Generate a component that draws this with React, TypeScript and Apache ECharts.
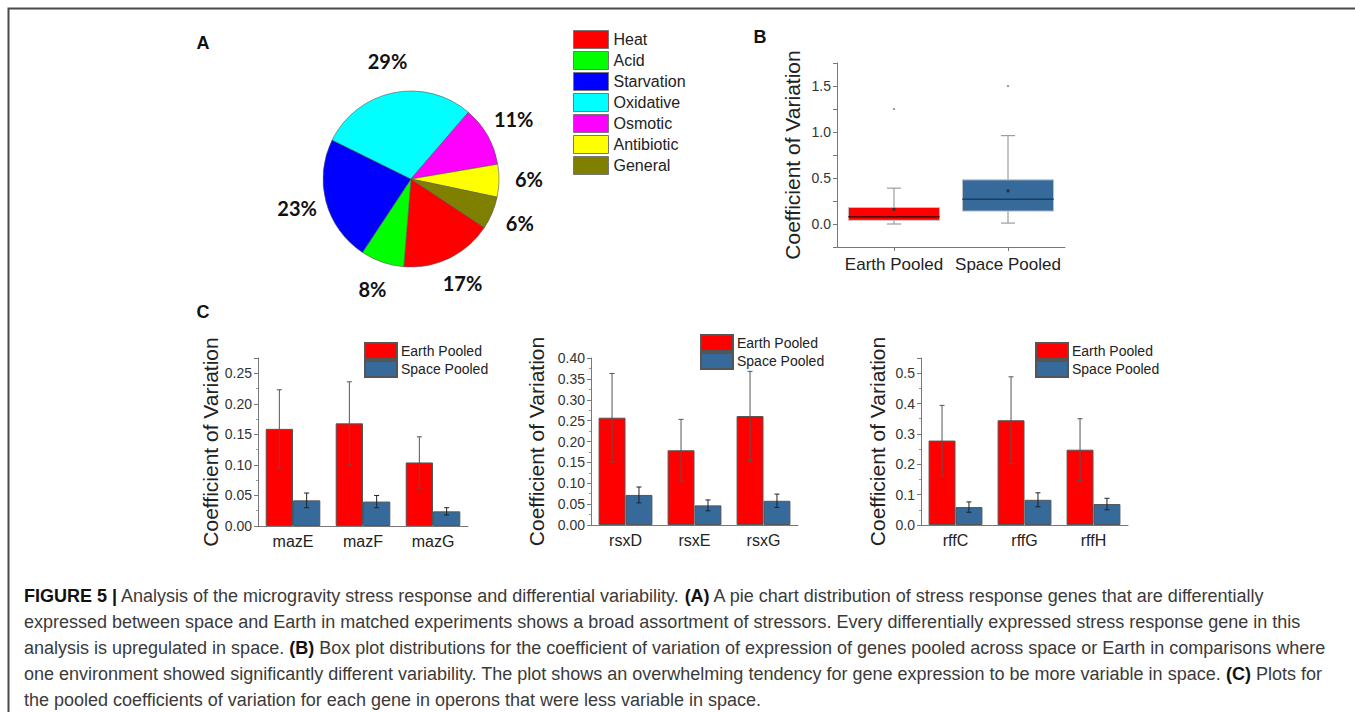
import React, { useEffect, useRef } from "react";
import * as echarts from "echarts";

// ---------- Panel A: pie ----------
const pieCategories = ["Heat", "Acid", "Starvation", "Oxidative", "Osmotic", "Antibiotic", "General"];
const piePercents = [17, 8, 23, 29, 11, 6, 6];
const pieColors = ["#ff0000", "#00ff00", "#0000ff", "#00ffff", "#ff00ff", "#ffff00", "#808000"];

// ---------- Panel B: box plot ----------
const boxCategories = ["Earth Pooled", "Space Pooled"];
// [min, q1, median, q3, max]
const boxStats = [
  [0.0, 0.04, 0.08, 0.18, 0.39],
  [0.01, 0.14, 0.27, 0.48, 0.96],
];
const boxMeans = [0.16, 0.36];
const boxOutliers = [1.25, 1.5];
const boxFill = ["#ff0000", "#356a9b"];
const boxMedianColor = ["#5a0000", "#1d3d5e"];

// ---------- Panel C: bars ----------
const catsMaz = ["mazE", "mazF", "mazG"];
const earthMaz = [0.159, 0.168, 0.104];
const earthMazErr = [0.064, 0.068, 0.042];
const spaceMaz = [0.042, 0.04, 0.024];
const spaceMazErr = [0.012, 0.01, 0.006];

const catsRsx = ["rsxD", "rsxE", "rsxG"];
const earthRsx = [0.257, 0.179, 0.261];
const earthRsxErr = [0.106, 0.074, 0.107];
const spaceRsx = [0.072, 0.047, 0.058];
const spaceRsxErr = [0.019, 0.013, 0.016];

const catsRff = ["rffC", "rffG", "rffH"];
const earthRff = [0.278, 0.345, 0.248];
const earthRffErr = [0.116, 0.143, 0.102];
const spaceRff = [0.059, 0.083, 0.069];
const spaceRffErr = [0.017, 0.023, 0.019];

const seriesNames = ["Earth Pooled", "Space Pooled"];
const yTitle = "Coefficient of Variation";

const captionLines = [
  "{b|FIGURE 5 |} Analysis of the microgravity stress response and differential variability. {b|(A)} A pie chart distribution of stress response genes that are differentially",
  "expressed between space and Earth in matched experiments shows a broad assortment of stressors. Every differentially expressed stress response gene in this",
  "analysis is upregulated in space. {b|(B)} Box plot distributions for the coefficient of variation of expression of genes pooled across space or Earth in comparisons where",
  "one environment showed significantly different variability. The plot shows an overwhelming tendency for gene expression to be more variable in space. {b|(C)} Plots for",
  "the pooled coefficients of variation for each gene in operons that were less variable in space.",
];

const RED = "#ff0000";
const BLUE = "#356a9b";
const FONT = "Liberation Sans";

export default function App() {
  const ref = useRef<HTMLDivElement>(null);

  useEffect(() => {
    if (!ref.current) return;
    const chart = echarts.init(ref.current, null, { renderer: "svg", width: 1355, height: 712 });

    const fmtStep = (step: number, digits: number) => (v: number) =>
      Math.abs(v / step - Math.round(v / step)) < 1e-6 ? v.toFixed(digits) : "";

    const yAxisBase = (grid: number, min: number, max: number, interval: number, step: number, digits: number, gap: number) => ({
      type: "value",
      gridIndex: grid,
      min,
      max,
      interval,
      name: yTitle,
      nameLocation: "middle",
      nameGap: gap,
      nameTextStyle: { fontSize: 21, color: "#222", fontFamily: FONT },
      splitLine: { show: false },
      axisLine: { show: true, lineStyle: { color: "#777", width: 1 } },
      axisTick: { show: true, length: 4, lineStyle: { color: "#777" } },
      minorTick: { show: grid > 0, splitNumber: 2, length: 2, lineStyle: { color: "#999" } },
      axisLabel: { fontSize: 14, color: "#333", margin: 6, fontFamily: FONT, formatter: fmtStep(step, digits) },
    });

    const xAxisBase = (grid: number, data: string[], fontSize: number, tick: boolean) => ({
      type: "category",
      gridIndex: grid,
      data,
      boundaryGap: true,
      axisLine: { show: true, onZero: false, lineStyle: { color: "#777", width: 1 } },
      axisTick: { show: tick, alignWithLabel: true, length: 4, lineStyle: { color: "#777" } },
      axisLabel: { interval: 0, fontSize, color: "#222", margin: tick ? 9 : 7, fontFamily: FONT },
      splitLine: { show: false },
    });

    const errRender = (sign: number, color: string) => (params: any, api: any) => {
      const i = api.value(0);
      const lo = api.coord([i, api.value(1)]);
      const hi = api.coord([i, api.value(2)]);
      const band = api.size([1, 0])[0];
      const x = lo[0] + sign * band * 0.195;
      const c = 2.5;
      const st = { stroke: color, lineWidth: 1 };
      return {
        type: "group",
        children: [
          { type: "line", shape: { x1: x, y1: hi[1], x2: x, y2: lo[1] }, style: st },
          { type: "line", shape: { x1: x - c, y1: hi[1], x2: x + c, y2: hi[1] }, style: st },
          { type: "line", shape: { x1: x - c, y1: lo[1], x2: x + c, y2: lo[1] }, style: st },
        ],
      };
    };

    const barGroup = (idx: number, earth: number[], earthErr: number[], space: number[], spaceErr: number[]) => [
      {
        type: "bar",
        name: seriesNames[0],
        xAxisIndex: idx,
        yAxisIndex: idx,
        data: earth,
        barWidth: "39%",
        barGap: "0%",
        itemStyle: { color: RED, borderColor: "#555", borderWidth: 1 },
        silent: true,
      },
      {
        type: "bar",
        name: seriesNames[1],
        xAxisIndex: idx,
        yAxisIndex: idx,
        data: space,
        barWidth: "39%",
        barGap: "0%",
        itemStyle: { color: BLUE, borderColor: "#555", borderWidth: 1 },
        silent: true,
      },
      {
        type: "custom",
        xAxisIndex: idx,
        yAxisIndex: idx,
        renderItem: errRender(-1, "#555"),
        data: earth.map((v, i) => [i, v - earthErr[i], v + earthErr[i]]),
        z: 10,
        silent: true,
      },
      {
        type: "custom",
        xAxisIndex: idx,
        yAxisIndex: idx,
        renderItem: errRender(1, "#222"),
        data: space.map((v, i) => [i, v - spaceErr[i], v + spaceErr[i]]),
        z: 10,
        silent: true,
      },
    ];

    const legendC = (left: number, top: number) => ({
      data: seriesNames,
      orient: "vertical",
      left,
      top,
      padding: 0,
      itemWidth: 32,
      itemHeight: 16,
      itemGap: 0,
      icon: "rect",
      selectedMode: false,
      textStyle: { fontSize: 14, color: "#222", fontFamily: FONT, padding: [0, 0, 0, -1] },
    });

    const pieData = pieCategories.map((n, i) => ({ name: n, value: piePercents[i] }));

    const option: any = {
      animation: false,
      backgroundColor: "#fff",
      textStyle: { fontFamily: FONT },
      grid: [
        { left: 837, top: 63, width: 228, height: 184 },
        { left: 258, top: 358, width: 210, height: 168 },
        { left: 591, top: 358, width: 207, height: 167 },
        { left: 921, top: 358, width: 207, height: 167 },
      ],
      xAxis: [
        xAxisBase(0, boxCategories, 17, true),
        xAxisBase(1, catsMaz, 16, false),
        xAxisBase(2, catsRsx, 16, false),
        xAxisBase(3, catsRff, 16, false),
      ],
      yAxis: [
        yAxisBase(0, -0.25, 1.75, 0.25, 0.5, 1, 34),
        yAxisBase(1, 0, 0.275, 0.05, 0.05, 2, 34),
        yAxisBase(2, 0, 0.4, 0.05, 0.05, 2, 44),
        yAxisBase(3, 0, 0.55, 0.1, 0.1, 1, 33),
      ],
      legend: [
        {
          data: pieCategories,
          orient: "vertical",
          left: 573,
          top: 30,
          padding: 0,
          itemWidth: 35,
          itemHeight: 18,
          itemGap: 2,
          icon: "rect",
          selectedMode: false,
          itemStyle: { borderColor: "#777", borderWidth: 1 },
          textStyle: { fontSize: 16, color: "#222", fontFamily: FONT },
        },
        legendC(364, 342),
        legendC(700, 334),
        legendC(1035, 342),
      ],
      series: [
        {
          type: "pie",
          center: [411, 179],
          radius: 88,
          startAngle: -33.5,
          clockwise: true,
          data: pieData,
          color: pieColors,
          itemStyle: { borderColor: "#555", borderWidth: 0.6 },
          label: { show: false },
          labelLine: { show: false },
          silent: true,
          emphasis: { disabled: true },
        },
        {
          type: "pie",
          center: [411, 179],
          radius: [88, 142],
          startAngle: -33.5,
          clockwise: true,
          data: pieData,
          color: pieColors,
          itemStyle: { color: "rgba(0,0,0,0)", borderWidth: 0 },
          label: {
            show: true,
            position: "inside",
            formatter: "{c}%",
            fontFamily: "Lato",
            fontWeight: "bold",
            fontSize: 20,
            color: "#111",
            offset: [0, -2],
          },
          labelLine: { show: false },
          silent: true,
          emphasis: { disabled: true },
          z: 1,
        },
        {
          type: "custom",
          xAxisIndex: 0,
          yAxisIndex: 0,
          data: boxStats.map((s, i) => [i, ...s, boxMeans[i]]),
          silent: true,
          renderItem: (params: any, api: any) => {
            const i = api.value(0);
            const lo = api.coord([i, api.value(1)]);
            const q1 = api.coord([i, api.value(2)]);
            const med = api.coord([i, api.value(3)]);
            const q3 = api.coord([i, api.value(4)]);
            const hi = api.coord([i, api.value(5)]);
            const mean = api.coord([i, api.value(6)]);
            const band = api.size([1, 0])[0];
            const hw = band * 0.4;
            const cap = band * 0.062;
            const x = lo[0];
            const ws = { stroke: "#8a8a8a", lineWidth: 1 };
            return {
              type: "group",
              children: [
                { type: "line", shape: { x1: x, y1: hi[1], x2: x, y2: lo[1] }, style: ws },
                { type: "line", shape: { x1: x - cap, y1: hi[1], x2: x + cap, y2: hi[1] }, style: ws },
                { type: "line", shape: { x1: x - cap, y1: lo[1], x2: x + cap, y2: lo[1] }, style: ws },
                {
                  type: "rect",
                  shape: { x: x - hw, y: q3[1], width: 2 * hw, height: q1[1] - q3[1] },
                  style: { fill: boxFill[i], stroke: "#c4c4c4", lineWidth: 1 },
                },
                {
                  type: "line",
                  shape: { x1: x - hw, y1: med[1], x2: x + hw, y2: med[1] },
                  style: { stroke: boxMedianColor[i], lineWidth: 1.5 },
                },
                {
                  type: "rect",
                  shape: { x: mean[0] - 1.5, y: mean[1] - 1.5, width: 3, height: 3 },
                  style: { fill: "#333" },
                },
              ],
            };
          },
        },
        {
          type: "scatter",
          xAxisIndex: 0,
          yAxisIndex: 0,
          data: boxOutliers.map((v, i) => [i, v]),
          symbol: "circle",
          symbolSize: 2.5,
          itemStyle: { color: "#888" },
          silent: true,
        },
        ...barGroup(1, earthMaz, earthMazErr, spaceMaz, spaceMazErr),
        ...barGroup(2, earthRsx, earthRsxErr, spaceRsx, spaceRsxErr),
        ...barGroup(3, earthRff, earthRffErr, spaceRff, spaceRffErr),
      ],
      graphic: [
        {
          type: "polyline",
          shape: { points: [[8.5, 712], [8.5, 8.5], [1355, 8.5]] },
          style: { stroke: "#4a4a4a", lineWidth: 2, fill: "none" },
          silent: true,
        },
        { type: "text", x: 203, y: 43, style: { text: "A", font: `bold 18px "${FONT}"`, fill: "#111", textAlign: "center", textVerticalAlign: "middle" } },
        { type: "text", x: 760, y: 37, style: { text: "B", font: `bold 18px "${FONT}"`, fill: "#111", textAlign: "center", textVerticalAlign: "middle" } },
        { type: "text", x: 203, y: 312, style: { text: "C", font: `bold 18px "${FONT}"`, fill: "#111", textAlign: "center", textVerticalAlign: "middle" } },
        ...captionLines.map((line, k) => ({
          type: "text",
          x: 24,
          y: 596 + k * 26,
          style: {
            text: line,
            fontFamily: FONT,
            fontSize: 18,
            fill: "#3a3a3a",
            textVerticalAlign: "middle",
            rich: { b: { fontFamily: FONT, fontSize: 18, fontWeight: "bold", fill: "#111", color: "#111" } },
          },
          silent: true,
        })),
      ],
    };

    chart.setOption(option);
    return () => chart.dispose();
  }, []);

  return (
    <div
      ref={ref}
      style={{ position: "fixed", left: 0, top: 0, width: 1355, height: 712, background: "#fff" }}
    />
  );
}
